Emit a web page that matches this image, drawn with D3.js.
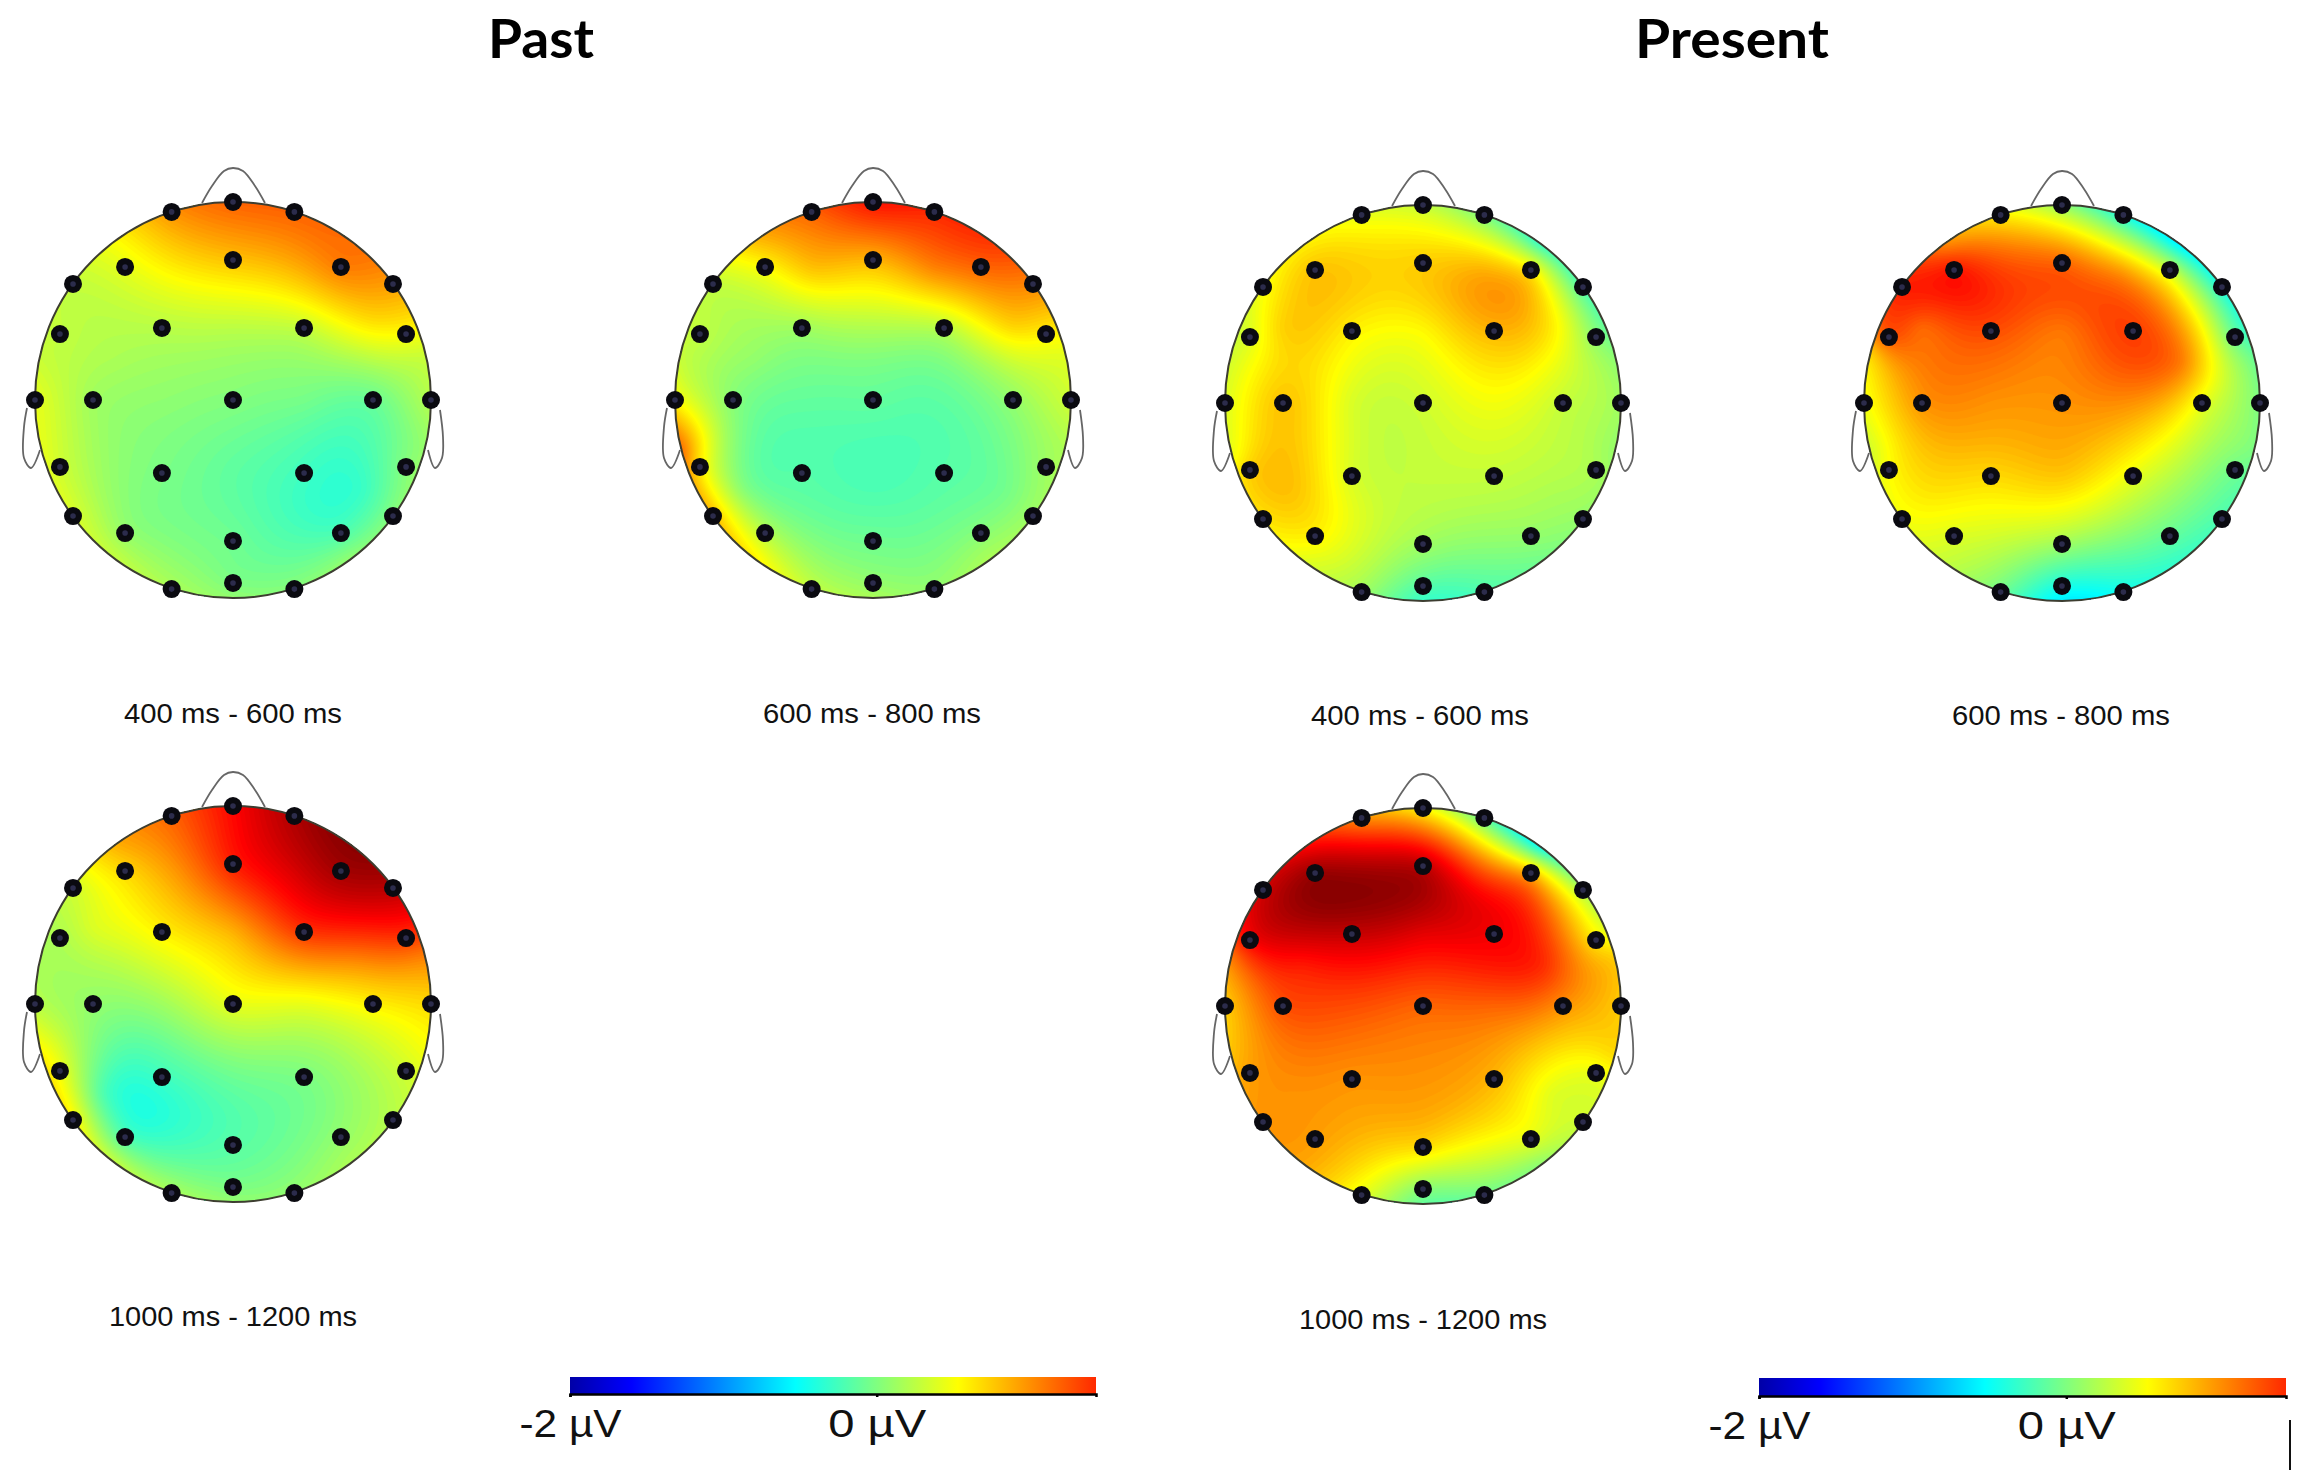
<!DOCTYPE html>
<html><head><meta charset="utf-8">
<script src="https://cdnjs.cloudflare.com/ajax/libs/d3/7.8.5/d3.min.js"></script>
<style>html,body{margin:0;padding:0;background:#fff}svg{display:block}</style>
</head><body>
<svg id="chart" width="2300" height="1475"></svg>
<script>
// Head coordinates, percent of head radius. Sensors first, then support sites used for the scalp surface.
const sensorX = [0,-31,31,0,-54.5,54.5,-80.8,80.8,-35.9,35.9,-87.4,87.4,-100,-70.7,0,70.7,100,-35.9,35.9,-87.4,87.4,-80.8,80.8,-54.5,54.5,0,0,-31,31];
const sensorY = [-100,-95,-95,-70.7,-67.2,-67.2,-58.6,-58.6,-36.4,-36.4,-33.3,-33.3,0,0,0,0,0,36.9,36.9,33.8,33.8,58.6,58.6,67.2,67.2,71.2,92.4,95.5,95.5];
const supportX = [-58.6,58.6,-58.6,58.6,0,0,-60.6,60.6,-35.4,35.4,0,-65.7,65.7,-30.3,30.3,97,-97,97,-97,-70.7,70.7];
const supportY = [-80.8,-80.8,80.8,80.8,100,-35.4,-20.2,-20.2,0,0,35.4,45.5,45.5,-65.7,-65.7,-25.3,-25.3,25.3,25.3,-37.9,-37.9];

// Voltages in µV
const past400  = [1.2,1,1.2,.8,.45,1.1,.3,.95,.25,.3,.3,.55,.45,.15,.03,-.08,.25,0,-.25,.35,.05,.4,.05,.1,-.2,-.05,0,.2,.05,
                  .55,1.15,.3,.1,.1,.25,.2,.2,.08,-.02,-.12,.15,-.28,.6,.85,.35,.3,.1,.45,.25,.65];
const past600  = [1.55,1.2,1.45,.85,.55,1.2,.3,1.05,.15,.25,.3,.6,.55,.05,-.1,.1,.35,-.15,-.15,.6,.15,.85,.15,.25,.05,-.05,.1,.3,.1,
                  .85,1.4,.6,.2,.2,.2,.1,.25,-.1,-.12,-.22,.05,-.05,.8,1.05,.45,.3,.2,1.2,.2,.75];
const past1000 = [1.6,1.2,1.95,1.5,.7,2,.35,1.9,.6,1.4,.2,1.4,.25,.1,.45,.6,.7,-.25,0,.5,.35,.6,.25,-.2,.1,-.15,0,.2,.1,
                  .9,2.1,.3,.2,.1,.85,.25,1,.15,.45,-.05,-.2,.15,.95,1.75,1.1,.2,.5,.6,.4,1.5];
const present400  = [.3,.45,0,.75,.8,.65,.5,-.2,.6,.85,.4,.05,.4,.8,.35,.3,.15,.38,.3,.75,.2,.65,.1,.6,.1,.15,-.15,.15,-.2,
                     .6,-.3,.4,-.05,-.3,.55,.7,.55,.38,.5,.3,.8,.2,.75,.9,.05,.35,.1,.45,.75,.5];
const present600  = [.1,.6,-.4,1.2,1.55,.35,1.5,-.4,1.3,1.35,1.3,-.1,.5,1,1,.45,0,.7,.45,.55,-.05,.5,-.2,.4,-.1,.15,-.4,-.05,-.45,
                     1,-.6,.3,-.3,-.6,1.1,1.15,1.1,1,1,.8,.65,.05,1.35,1,-.1,.7,0,.35,1.15,.55];
const present1000 = [.55,1,-.1,1.9,2.05,.9,1.8,.2,1.85,1.65,1.65,.6,.75,1.3,1.2,1,.75,1,.85,.95,.45,1,.35,.95,.45,.7,.05,.45,-.05,
                     1.6,-.5,.9,.05,-.1,1.7,1.5,1.45,1.3,1.2,1,1,.4,2.05,1.35,.75,1.1,.7,.8,1.85,1.05];

const panelLabels = ["400 ms - 600 ms","600 ms - 800 ms","1000 ms - 1200 ms"];
const groupTitles = ["Past","Present"];
const barTicks = [-2,0];
const jetValues = [-2.13,-1.6,-.53,.53,1.6,2.13];
const jetColors = ["#00008a","#0000ff","#00ffff","#ffff00","#ff0000","#800000"];
const barMax = 1.43;

const R = 198;
const panels = [
  {v:past400,   cx:233,  cy:400,  label:panelLabels[0], lx:233,  ly:723},
  {v:past600,   cx:873,  cy:400,  label:panelLabels[1], lx:872,  ly:723},
  {v:past1000,  cx:233,  cy:1004, label:panelLabels[2], lx:233,  ly:1326},
  {v:present400,cx:1423, cy:403,  label:panelLabels[0], lx:1420, ly:725},
  {v:present600,cx:2062, cy:403,  label:panelLabels[1], lx:2061, ly:725},
  {v:present1000,cx:1423,cy:1006, label:panelLabels[2], lx:1423, ly:1329}
];

const svg = d3.select("#chart");
svg.append("rect").attr("width",2300).attr("height",1475).attr("fill","#fff");
const color = d3.scaleLinear().domain(jetValues).range(jetColors).interpolate(d3.interpolateRgb).clamp(true);
const sx = sensorX.concat(supportX).map(d=>d/100), sy = sensorY.concat(supportY).map(d=>d/100);

function solve(A,b){
  const n=b.length; A=A.map((r,i)=>r.concat(b[i]));
  for(let i=0;i<n;i++){
    let p=i; for(let k=i+1;k<n;k++) if(Math.abs(A[k][i])>Math.abs(A[p][i])) p=k;
    [A[i],A[p]]=[A[p],A[i]];
    for(let k=i+1;k<n;k++){ const f=A[k][i]/A[i][i]; if(f) for(let j=i;j<=n;j++) A[k][j]-=f*A[i][j]; }
  }
  const x=new Array(n).fill(0);
  for(let i=n-1;i>=0;i--){ let s=A[i][n]; for(let j=i+1;j<n;j++) s-=A[i][j]*x[j]; x[i]=s/A[i][i]; }
  return x;
}
const U=(dx,dy)=>{const r2=dx*dx+dy*dy; return r2>1e-9? r2*Math.log(r2)/2:0;};
function surface(vals){
  const n=sx.length, A=[];
  for(let i=0;i<n;i++){ const r=[]; for(let j=0;j<n;j++) r.push(U(sx[i]-sx[j],sy[i]-sy[j])+(i==j?0.006:0)); r.push(1,sx[i],sy[i]); A.push(r); }
  A.push(sx.map(()=>1).concat([0,0,0])); A.push(sx.concat([0,0,0])); A.push(sy.concat([0,0,0]));
  const w=solve(A,vals.concat([0,0,0]));
  return (x,y)=>{ let s=w[n]+w[n+1]*x+w[n+2]*y; for(let i=0;i<n;i++) s+=w[i]*U(x-sx[i],y-sy[i]); return s; };
}

const thresholds = d3.range(-2.2,2.2,0.03);
const GRID = 210;
const nose = [[-31,-197],[-21,-214],[-9,-229],[0,-232],[10,-229],[22,-214],[32,-197]];
const earL = [[-206,8],[-209,27],[-209,58],[-202,68],[-193,50]];
const earR = [[207,10],[210,37],[209,58],[202,68],[195,50]];
const curve = d3.line().curve(d3.curveCatmullRom);

panels.forEach((p,pi)=>{
  const x=d3.scaleLinear().domain([-1,1]).range([p.cx-R,p.cx+R]);
  const y=d3.scaleLinear().domain([-1,1]).range([p.cy-R,p.cy+R]);
  const g=svg.append("g").attr("class","panel");
  const f=surface(p.v), grid=new Float64Array(GRID*GRID);
  const gs=d3.scaleLinear().domain([0,GRID-1]).range([-1.02,1.02]);
  for(let j=0;j<GRID;j++) for(let i=0;i<GRID;i++) grid[j*GRID+i]=Math.max(-2.13,Math.min(2.13,f(gs(i),gs(j))));
  const id="clip"+pi;
  svg.append("clipPath").attr("id",id).append("circle").attr("cx",p.cx).attr("cy",p.cy).attr("r",R);
  const scale=(2.04*R)/(GRID-1);
  const fill=g.append("g").attr("clip-path",`url(#${id})`)
    .append("g").attr("transform",`translate(${p.cx-1.02*R-0.5*scale},${p.cy-1.02*R-0.5*scale}) scale(${scale})`);
  fill.selectAll("path").data(d3.contours().size([GRID,GRID]).thresholds(thresholds)(Array.from(grid)))
    .join("path").attr("d",d3.geoPath()).attr("fill",d=>color(d.value)).attr("stroke","none");
  g.append("circle").attr("cx",p.cx).attr("cy",p.cy).attr("r",R).attr("fill","none").attr("stroke","#3d3d30").attr("stroke-width",2);
  [nose,earL,earR].forEach(s=>g.append("path")
    .attr("d",curve(s.map(d=>[p.cx+d[0],p.cy+d[1]]))).attr("fill","none").attr("stroke","#666").attr("stroke-width",1.8));
  const sg=g.append("g");
  sensorX.forEach((sxv,i)=>{
    const cx=x(sxv/100), cy=y(sensorY[i]/100);
    sg.append("circle").attr("cx",cx).attr("cy",cy).attr("r",9).attr("fill","#0a0a10");
    sg.append("circle").attr("cx",cx).attr("cy",cy).attr("r",2.8).attr("fill","#2c2c4c");
  });
  svg.append("text").attr("x",p.lx).attr("y",p.ly).attr("text-anchor","middle")
    .attr("font-family","'Liberation Sans',Arial,sans-serif").attr("font-size",27)
    .attr("textLength",p.label.startsWith("1000")?248:218).attr("lengthAdjust","spacingAndGlyphs")
    .attr("fill","#111").text(p.label);
});

// Group titles
[[541,groupTitles[0],106],[1732,groupTitles[1],194]].forEach(([x,t,w])=>{
  svg.append("text").attr("x",x).attr("y",58).attr("text-anchor","middle").attr("font-family","Lato,sans-serif")
    .attr("font-weight",700).attr("font-size",54).attr("textLength",w).attr("lengthAdjust","spacingAndGlyphs")
    .attr("fill","#000").text(t);
});

// Colour bars
const defs=svg.append("defs");
[{x0:570,x1:1096,y0:1377,y1:1395,ty:1437},{x0:1759,x1:2286,y0:1378,y1:1397,ty:1439}].forEach((b,k)=>{
  const s=d3.scaleLinear().domain([-2,barMax]).range([b.x0,b.x1]);
  const gid="bar"+k;
  const lg=defs.append("linearGradient").attr("id",gid);
  const st=[-2].concat(jetValues.filter(v=>v>-2&&v<barMax),[barMax]);
  st.forEach(v=>lg.append("stop").attr("offset",(v+2)/(barMax+2)).attr("stop-color",color(v)));
  svg.append("rect").attr("x",b.x0).attr("y",b.y0).attr("width",b.x1-b.x0).attr("height",b.y1-b.y0).attr("fill",`url(#${gid})`);
  const ax=svg.append("g").attr("transform",`translate(0,${b.y1-1})`)
    .call(d3.axisBottom(s).tickValues(barTicks).tickSize(3).tickFormat(d=>`${d} µV`));
  ax.select(".domain").attr("stroke","#000").attr("stroke-width",2.5);
  ax.selectAll(".tick line").attr("stroke","#000").attr("stroke-width",2.5);
  ax.selectAll(".tick text").attr("font-family","'Liberation Sans',Arial,sans-serif").attr("font-size",39).attr("fill","#111")
    .attr("dy",0).attr("y",b.ty-b.y1+1)
    .attr("textLength",d=>d===0?98:102).attr("lengthAdjust","spacingAndGlyphs");
});
svg.append("line").attr("x1",2290).attr("x2",2290).attr("y1",1420).attr("y2",1470).attr("stroke","#111").attr("stroke-width",2);
</script>
</body></html>
